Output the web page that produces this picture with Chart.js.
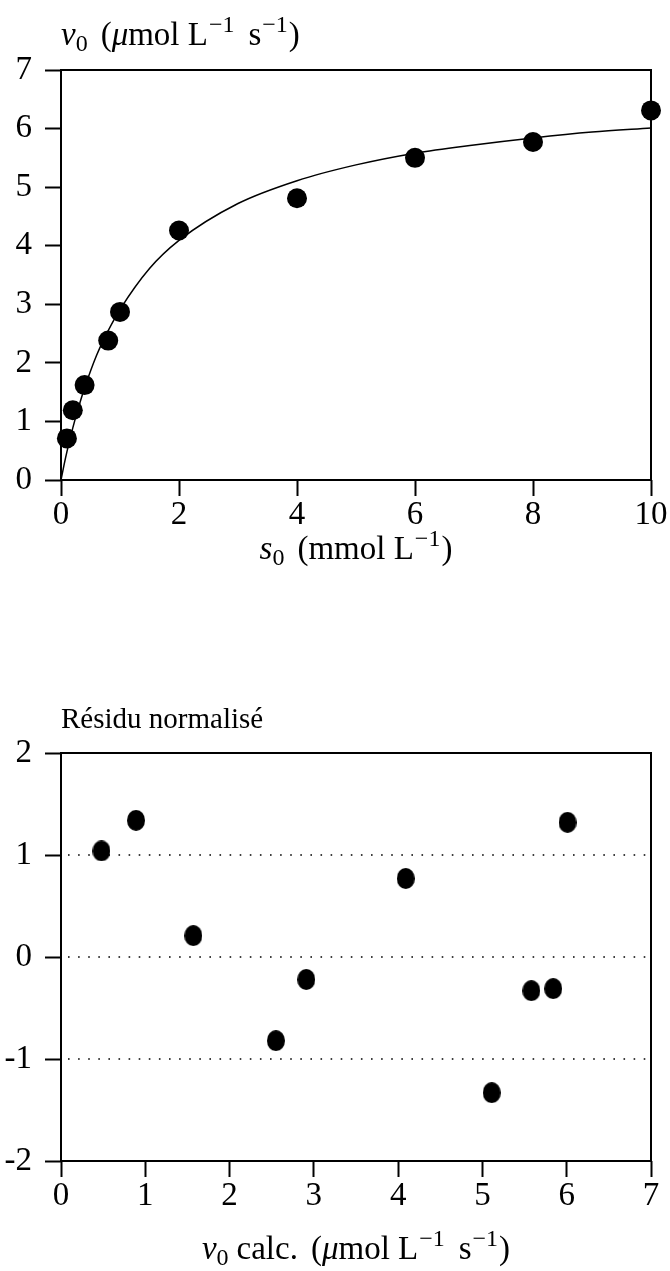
<!DOCTYPE html>
<html><head><meta charset="utf-8">
<script src="https://cdn.jsdelivr.net/npm/chart.js@4"></script>
<style>
html,body{margin:0;padding:0;background:#fff;}
#wrap{position:relative;width:670px;height:1271px;overflow:hidden;}
canvas{position:absolute;left:0;}
#c1{top:0}
#c2{top:635px}
</style></head><body>
<div id="wrap">
<canvas id="c1" width="670" height="635"></canvas>
<canvas id="c2" width="670" height="636"></canvas>
</div>
<script>
// ---- data ----
const s0 = [0.1, 0.2, 0.4, 0.8, 1, 2, 4, 6, 8, 10];
const v0 = [0.71, 1.19, 1.62, 2.38, 2.87, 4.26, 4.81, 5.50, 5.77, 6.31];
const curveS = [0, 0.05, 0.1, 0.2, 0.3, 0.4, 0.6, 0.8, 1, 1.5, 2, 3, 4, 5, 6, 7, 8, 9, 10];
const curveV = [0, 0.25, 0.48, 0.89, 1.25, 1.57, 2.12, 2.55, 2.91, 3.61, 4.09, 4.72, 5.11, 5.38, 5.58, 5.72, 5.84, 5.94, 6.01];
const v0calc = [0.48, 0.89, 1.57, 2.55, 2.91, 4.09, 5.11, 5.58, 5.84, 6.01];
const residu = [1.04, 1.34, 0.21, -0.82, -0.22, 0.77, -1.33, -0.33, -0.31, 1.32];
const refLevels = [1, 0, -1];
const topXTicks = [0, 2, 4, 6, 8, 10];
const topYTicks = [0, 1, 2, 3, 4, 5, 6, 7];
const botXTicks = [0, 1, 2, 3, 4, 5, 6, 7];
const botYTicks = [-2, -1, 0, 1, 2];
const topYTitle = [{t:'v',it:true},{t:'0',sub:true},{gap:13},{t:'('},{t:'μ',it:true},{t:'mol L'},{t:'−1',sup:true},{gap:13},{t:'s'},{t:'−1',sup:true},{t:')'}];
const topXTitle = [{t:'s',it:true},{t:'0',sub:true},{gap:13},{t:'(mmol L'},{t:'−1',sup:true},{t:')'}];
const botYTitle = [{t:'Résidu normalisé'}];
const botXTitle = [{t:'v',it:true},{t:'0',sub:true},{gap:8},{t:'calc.'},{gap:13},{t:'('},{t:'μ',it:true},{t:'mol L'},{t:'−1',sup:true},{gap:13},{t:'s'},{t:'−1',sup:true},{t:')'}];

const FAM = "'Liberation Serif', 'DejaVu Serif', serif";
const FS = 33;
Chart.defaults.font.family = FAM;
Chart.defaults.color = '#000';

function drawRich(ctx, segs, x, y, align, size) {
  const fontOf = s => (s.it ? 'italic ' : '') + ((s.sub || s.sup) ? Math.round(size * 0.74) : size) + 'px ' + FAM;
  const wOf = s => { if (s.gap) return s.gap; ctx.font = fontOf(s); return ctx.measureText(s.t).width + (s.sup ? 2 : 0); };
  let w = 0;
  segs.forEach(s => { w += wOf(s); });
  let cx = align === 'center' ? x - w / 2 : x;
  ctx.save();
  ctx.fillStyle = '#000'; ctx.textBaseline = 'alphabetic'; ctx.textAlign = 'left';
  segs.forEach(s => {
    if (!s.gap) {
      ctx.font = fontOf(s);
      const dy = s.sub ? size * 0.17 : (s.sup ? -size * 0.4 : 0);
      ctx.fillText(s.t, cx + (s.sup ? 1 : 0), y + dy);
    }
    cx += wOf(s);
  });
  ctx.restore();
}

function framePlugin(titleY, titleYBase, titleYSize, titleX, titleXBase) {
  return {
    id: 'frame',
    beforeDatasetsDraw(chart) {
      const a = chart.chartArea, ctx = chart.ctx;
      ctx.save();
      ctx.strokeStyle = '#000'; ctx.lineWidth = 2;
      ctx.strokeRect(a.left, a.top, a.right - a.left, a.bottom - a.top);
      ctx.restore();
    },
    afterDraw(chart) {
      const a = chart.chartArea, ctx = chart.ctx;
      drawRich(ctx, titleY, 61, titleYBase, 'left', titleYSize);
      drawRich(ctx, titleX, (a.left + a.right) / 2, titleXBase, 'center', FS);
    }
  };
}

function axisX(ticks, min, max, h) {
  return {
    type: 'linear', min, max,
    afterBuildTicks: s => { s.ticks = ticks.map(v => ({value: v})); },
    grid: {drawOnChartArea: false, drawTicks: true, tickLength: 16, tickWidth: 2, tickColor: '#000', color: '#000'},
    border: {display: false},
    ticks: {color: '#000', font: {size: FS}, padding: 0, maxRotation: 0, autoSkip: false},
    afterFit: s => { s.height = h; }
  };
}
function axisY(ticks, min, max) {
  return {
    type: 'linear', min, max,
    afterBuildTicks: s => { s.ticks = ticks.map(v => ({value: v})); },
    grid: {drawOnChartArea: false, drawTicks: true, tickLength: 16, tickWidth: 2, tickColor: '#000', color: '#000'},
    border: {display: false},
    ticks: {color: '#000', font: {size: FS}, padding: 13, autoSkip: false},
    afterFit: s => { s.width = 61; }
  };
}

function ellipseMarker(w, h) {
  const c = document.createElement('canvas');
  c.width = w; c.height = h;
  const g = c.getContext('2d');
  g.fillStyle = '#000';
  g.beginPath(); g.ellipse(w / 2, h / 2, w / 2, h / 2, 0, 0, Math.PI * 2); g.fill();
  return c;
}

const common = {
  responsive: false, animation: false, events: [],
  plugins: {legend: {display: false}, tooltip: {enabled: false}}
};

new Chart(document.getElementById('c1'), {
  type: 'scatter',
  data: {
    datasets: [
      {data: s0.map((x, i) => ({x, y: v0[i]})), pointRadius: 10, pointBackgroundColor: '#000', pointBorderWidth: 0, clip: false},
      {data: curveS.map((x, i) => ({x, y: curveV[i]})), showLine: true, pointRadius: 0, borderColor: '#000', borderWidth: 1.5, cubicInterpolationMode: 'monotone', fill: false}
    ]
  },
  options: Object.assign({}, common, {
    layout: {padding: {top: 70, right: 19, left: 0, bottom: 0}},
    scales: {x: axisX(topXTicks, 0, 10, 155), y: axisY(topYTicks, 0, 7)}
  }),
  plugins: [framePlugin(topYTitle, 45, FS, topXTitle, 559)]
});

const marker = ellipseMarker(18, 21);
new Chart(document.getElementById('c2'), {
  type: 'scatter',
  data: {
    datasets: [
      {data: v0calc.map((x, i) => ({x, y: residu[i]})), pointStyle: marker, pointRadius: 10, clip: false},
      ...refLevels.map(l => ({data: [{x: 0, y: l}, {x: 7, y: l}], showLine: true, pointRadius: 0, borderColor: '#000', borderWidth: 1.6, borderDash: [1.6, 8.5], borderDashOffset: -7}))
    ]
  },
  options: Object.assign({}, common, {
    layout: {padding: {top: 118, right: 19, left: 0, bottom: 0}},
    scales: {x: axisX(botXTicks, 0, 7, 110), y: axisY(botYTicks, -2, 2)}
  }),
  plugins: [framePlugin(botYTitle, 93, 29, botXTitle, 624)]
});
</script>
</body></html>
